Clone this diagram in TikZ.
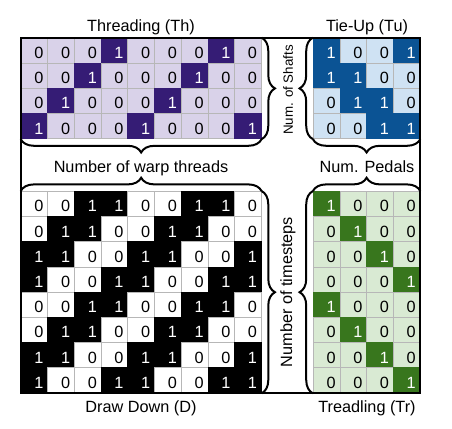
\documentclass[tikz,border=0pt]{standalone}
\usepackage{fontspec}
\setmainfont{Liberation Sans}
\usetikzlibrary{decorations.pathreplacing}
\definecolor{ThDark}{HTML}{351C75}
\definecolor{ThLight}{HTML}{D9D2E9}
\definecolor{TuDark}{HTML}{0B5394}
\definecolor{TuLight}{HTML}{CFE2F3}
\definecolor{TrDark}{HTML}{38761D}
\definecolor{TrLight}{HTML}{D9EAD3}
\definecolor{CellLine}{HTML}{B7B7B7}
\newcommand\cellnum[1]{\makebox[13.6pt][r]{#1}}

\begin{document}
\begin{tikzpicture}[x=0.75pt,y=-0.75pt,
  cell/.style={draw=CellLine,line width=0.5pt,minimum width=20pt,minimum height=18.9pt,inner sep=0pt,
    text height=11.8pt,text depth=0pt,font=\fontsize{12.2}{12}\selectfont},
  th0/.style={cell,fill=ThLight,text=black},
  th1/.style={cell,fill=ThDark,draw=ThDark,text=white},
  tu0/.style={cell,fill=TuLight,text=black},
  tu1/.style={cell,fill=TuDark,draw=TuDark,text=white},
  tr0/.style={cell,fill=TrLight,text=black},
  tr1/.style={cell,fill=TrDark,draw=TrDark,text=white},
  dd0/.style={cell,fill=white,text=black},
  dd1/.style={cell,fill=black,draw=black,text=white},
  title/.style={anchor=base,font=\fontsize{12.2}{14}\selectfont},
  span/.style={draw=black,line width=1.5pt,decorate,decoration={brace,amplitude=10pt}}
]
\useasboundingbox[fill=white] (0,0) rectangle (452,428);
% threading
\foreach \row [count=\r] in {{0,0,0,1,0,0,0,1,0},{0,0,1,0,0,0,1,0,0},{0,1,0,0,0,1,0,0,0},{1,0,0,0,1,0,0,0,1}}
  \foreach \v [count=\c] in \row
    \node[th\v] (th-\r-\c) at ({21+26.7*(\c-0.5)},{38+25.2*(\r-0.5)}) {\cellnum{\v}};
% tie-up
\foreach \row [count=\r] in {{1,0,0,1},{1,1,0,0},{0,1,1,0},{0,0,1,1}}
  \foreach \v [count=\c] in \row
    \node[tu\v] (tu-\r-\c) at ({313.2+26.7*(\c-0.5)},{38+25.2*(\r-0.5)}) {\cellnum{\v}};
% draw down
\foreach \row [count=\r] in {{0,0,1,1,0,0,1,1,0},{0,1,1,0,0,1,1,0,0},{1,1,0,0,1,1,0,0,1},{1,0,0,1,1,0,0,1,1},
                             {0,0,1,1,0,0,1,1,0},{0,1,1,0,0,1,1,0,0},{1,1,0,0,1,1,0,0,1},{1,0,0,1,1,0,0,1,1}}
  \foreach \v [count=\c] in \row
    \node[dd\v] (dd-\r-\c) at ({21+26.7*(\c-0.5)},{191.4+25.2*(\r-0.5)}) {\cellnum{\v}};
% treadling
\foreach \row [count=\r] in {{1,0,0,0},{0,1,0,0},{0,0,1,0},{0,0,0,1},{1,0,0,0},{0,1,0,0},{0,0,1,0},{0,0,0,1}}
  \foreach \v [count=\c] in \row
    \node[tr\v] (tr-\r-\c) at ({313.2+26.7*(\c-0.5)},{191.4+25.2*(\r-0.5)}) {\cellnum{\v}};
\draw[line width=1.5pt] (th-1-1.north west) rectangle (tr-8-4.south east);
\draw[span] (th-4-9.south east) -- (th-4-1.south west);
\draw[span] (dd-1-1.north west) -- (dd-1-9.north east);
\draw[span] (tu-4-4.south east) -- (tu-4-1.south west);
\draw[span] (tr-1-1.north west) -- (tr-1-4.north east);
\draw[span] (th-1-9.north east) -- (th-4-9.south east);
\draw[span] (tu-4-1.south west) -- (tu-1-1.north west);
\draw[span] (dd-1-9.north east) -- (dd-8-9.south east);
\draw[span] (tr-8-1.south west) -- (tr-1-1.north west);
\node[title] (thname) at (141,32) {Threading (Th)};
\node[title] (tuname) at (367,32) {Tie-Up (Tu)};
\node[title] (ddname) at (141,412) {Draw Down (D)};
\node[title] (trname) at (367,412) {Treadling (Tr)};
\node[title] (warp) at (141,172) {Number of warp threads};
\node[title] (pedals) at (367,172) {Num. Pedals};
\node[rotate=90,font=\fontsize{10}{12}\selectfont] (shafts) at (288,90) {Num. of Shafts};
\node[rotate=90,font=\fontsize{12.2}{14}\selectfont] (steps) at (288,292) {Number of timesteps};
\end{tikzpicture}
\end{document}
